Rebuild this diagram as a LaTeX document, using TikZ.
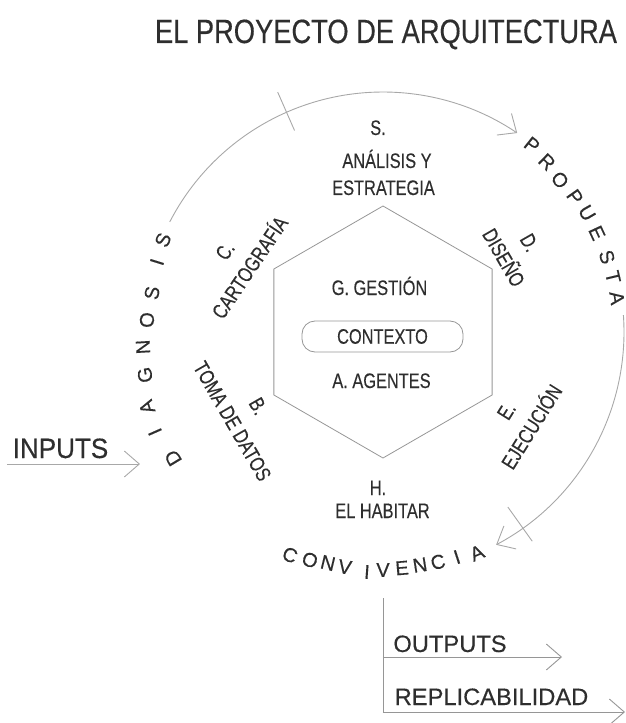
\documentclass[tikz,border=0pt]{standalone}
\usepackage{fontspec}
\setmainfont[FakeBold=0.35]{Liberation Sans}
\usetikzlibrary{arrows.meta}
\definecolor{txt}{HTML}{2E2E2E}
\definecolor{ln}{HTML}{A8A8A8}
\definecolor{hx}{HTML}{969696}
\newcommand{\cnd}[1]{\scalebox{0.78}[1]{#1}}
\begin{document}
\begin{tikzpicture}[x=1pt,y=1pt,
  lbl/.style={inner sep=0pt, text=txt, anchor=base, font=\fontsize{21}{25}\selectfont},
  rl/.style={inner sep=0pt, text=txt, align=center, font=\fontsize{21}{30}\selectfont},
  ring/.style={draw=ln, line width=0.9pt},
  arr/.style={-{Straight Barb[length=15pt,width=26pt,line width=0.9pt]}},
  lt/.style={inner sep=0pt, text=txt, font=\fontsize{20}{20}\selectfont},
  big/.style={inner sep=0pt, text=txt, anchor=base, font=\fontsize{23.7}{24}\selectfont},
  pill/.style={draw=hx, line width=0.8pt, rounded corners=13pt, minimum width=161pt, minimum height=31pt, inner sep=0pt, text=txt, font=\fontsize{21}{25}\selectfont}
]
\useasboundingbox (-383,-391) rectangle (243,332);

% title
\node[lbl] (title) at (3,289) {\resizebox{462pt}{23.5pt}{\fontsize{30}{30}\selectfont EL PROYECTO DE ARQUITECTURA}};

% hexagon
\coordinate (h1) at (90:126pt);
\coordinate (h2) at (150:126pt);
\coordinate (h3) at (210:126pt);
\coordinate (h4) at (270:126pt);
\coordinate (h5) at (330:126pt);
\coordinate (h6) at (30:126pt);
\draw[draw=hx, line width=0.8pt] (h1) -- (h2) -- (h3) -- (h4) -- (h5) -- (h6) -- cycle;

% inner labels
\node[lbl] (gest) at (-3.5,37) {\cnd{G. GESTIÓN}};
\node[pill] (ctx) at (-0.5,-4.5) {\cnd{CONTEXTO}};
\node[lbl] (agen) at (-1.5,-56) {\cnd{A. AGENTES}};

% top / bottom labels
\node[lbl] (sS) at (-5,197) {\cnd{S.}};
\node[lbl] (sA) at (4,164) {\cnd{ANÁLISIS Y}};
\node[lbl] (sE) at (0.5,137) {\cnd{ESTRATEGIA}};
\node[lbl] (hH) at (-5,-163) {\cnd{H.}};
\node[lbl] (hE) at (-0.5,-186) {\cnd{EL HABITAR}};

% rotated labels
\node[rl, rotate=56] (cart) at (-145.5,72.75) {\cnd{C.}\\\cnd{CARTOGRAFÍA}};
\node[rl, rotate=-60] (toma) at (-137.75,-81.75) {\cnd{B.}\\\cnd{TOMA DE DATOS}};
\node[rl, rotate=-60] (dise) at (133.5,81.75) {\cnd{D.}\\\cnd{DISEÑO}};
\node[rl, rotate=58] (ejec) at (136.25,-87) {\cnd{E.}\\\cnd{EJECUCIÓN}};

% outer arcs
\coordinate (a1s) at (152.7:240pt);
\coordinate (a2s) at (4:241pt);
\draw[ring,arr] (a1s) arc[start angle=152.7, end angle=56, radius=240pt] coordinate (a1e);
\draw[ring,arr] (a2s) arc[start angle=4, end angle=-62, radius=241pt] coordinate (a2e);
\coordinate (t1a) at (113.7:220pt);
\coordinate (t1b) at (113.7:262pt);
\coordinate (t2a) at (-54.5:215pt);
\coordinate (t2b) at (-54.5:257pt);
\draw[ring] (t1a) -- (t1b);
\draw[ring] (t2a) -- (t2b);

% ring words
\foreach \x/\y/\r/\l [count=\i] in {-210/-126/121/D, -228/-100/113.7/I, -236/-75/107.6/A, -238/-43/100.2/G, -240/-15/93.6/N, -236/12/87.1/O, -231/39/80.4/S, -226/70/72.8/I, -220/92/67.3/S}
  \node[lt, rotate=\r] (dg\i) at (\x,\y) {\l};
\foreach \x/\y/\r/\l [count=\i] in {149/187/-38.5/P, 164/170/-44/R, 177/152/-49.3/O, 192/135/-54.9/P, 204/119/-59.7/U, 214/99/-65.2/E, 224/75/-71.5/S, 230/55/-76.6/T, 234/34/-81.7/A}
  \node[lt, rotate=\r] (pr\i) at (\x,\y) {\l};
\foreach \x/\y/\r/\l [count=\i] in {-93/-223/-22.6/C, -73/-228/-17.8/O, -55/-231/-13.4/N, -38/-235/-9.2/V, -16/-240/-3.8/I, 0/-238/0/V, 19/-236/4.6/E, 37/-233/9/N, 55/-230/13.4/C, 74/-225/18.2/I, 94/-221/23/A}
  \node[lt, rotate=\r] (cv\i) at (\x,\y) {\l};

% inputs
\node[lbl] (inputs) at (-322.5,-126) {\scalebox{0.93}[1]{\fontsize{28}{28}\selectfont INPUTS}};
\coordinate (inS) at (-376,-132);
\coordinate (inE) at (-243,-132);
\draw[ring,arr] (inS) -- (inE);

% outputs
\coordinate (vt) at (0,-266);
\coordinate (v1) at (0,-325);
\coordinate (v2) at (0,-380);
\coordinate (o1) at (179,-325);
\coordinate (o2) at (242,-380);
\draw[draw=hx, line width=0.8pt] (vt) -- (v2);
\draw[draw=hx, line width=0.8pt, arr] (v1) -- (o1);
\draw[draw=hx, line width=0.8pt, arr] (v2) -- (o2);
\node[big] (outp) at (67,-320) {OUTPUTS};
\node[big] (repl) at (108.5,-373) {REPLICABILIDAD};
\end{tikzpicture}
\end{document}
